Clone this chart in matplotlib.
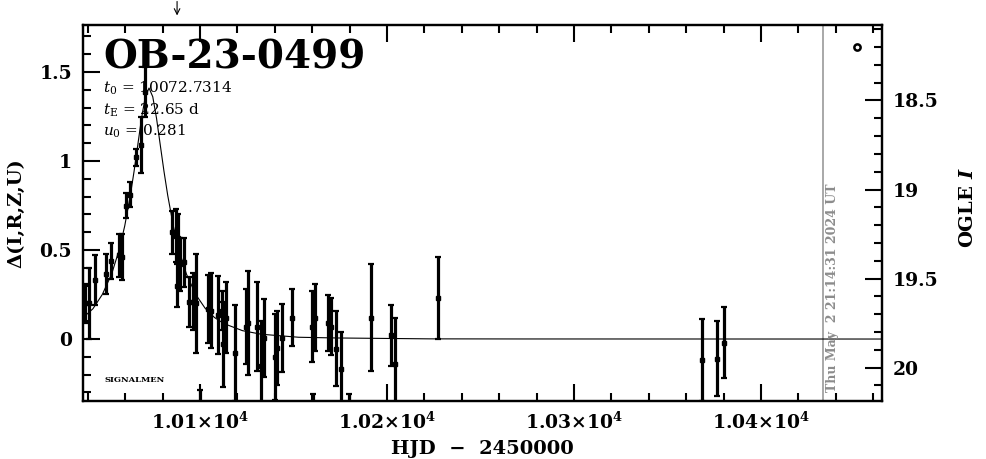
import matplotlib
matplotlib.use("Agg")
import matplotlib.pyplot as plt
import matplotlib.transforms as mtransforms
from matplotlib.ticker import MultipleLocator, FuncFormatter

# OGLE photometry (HJD - 2450000, delta mag, error)
hjd = [10038.5, 10040.6, 10043.8, 10049.7, 10052.4, 10056.7, 10058.3, 10060.4,
       10062.6, 10065.8, 10068.4, 10070.6, 10085.0, 10087.2, 10088.2, 10087.7,
       10089.3, 10091.4, 10094.1, 10096.3, 10097.9, 10100.0, 10104.3, 10105.9,
       10109.6, 10111.8, 10112.3, 10113.9, 10118.7, 10124.6, 10125.7, 10130.5,
       10132.6, 10134.2, 10140.1, 10141.2, 10143.9, 10149.2, 10159.9, 10161.5,
       10160.4, 10168.5, 10170.1, 10172.7, 10175.4, 10179.7, 10191.4, 10202.1,
       10204.3, 10227.3, 10368.5, 10376.5, 10380.2]
dmag = [0.20, 0.20, 0.33, 0.365, 0.44, 0.47, 0.46, 0.75,
        0.81, 1.02, 1.09, 1.39, 0.60, 0.58, 0.57, 0.30,
        0.42, 0.43, 0.21, 0.21, 0.20, -0.455, 0.17, 0.16,
        0.135, 0.16, -0.03, 0.12, -0.08, 0.07, 0.09, 0.07,
        -0.15, 0.005, -0.10, -0.05, 0.005, 0.12, 0.07, 0.12,
        -0.51, 0.09, 0.07, -0.055, -0.17, -0.51, 0.12, 0.02,
        -0.14, 0.23, -0.12, -0.11, -0.02]
derr = [0.11, 0.20, 0.14, 0.11, 0.10, 0.12, 0.13, 0.07,
        0.07, 0.05, 0.16, 0.14, 0.12, 0.15, 0.13, 0.12,
        0.15, 0.14, 0.14, 0.16, 0.28, 0.17, 0.19, 0.21,
        0.22, 0.11, 0.24, 0.20, 0.27, 0.21, 0.29, 0.25,
        0.25, 0.22, 0.24, 0.21, 0.19, 0.16, 0.20, 0.19,
        0.20, 0.16, 0.16, 0.21, 0.21, 0.20, 0.30, 0.17,
        0.26, 0.23, 0.23, 0.21, 0.20]

# model curve
model_t = [10037.4, 10042.7, 10047.7, 10052.7, 10056.7, 10059.7, 10062.7,
           10064.7, 10066.7, 10068.7, 10070.7, 10072.7, 10074.7, 10076.7,
           10078.7, 10080.7, 10082.7, 10085.7, 10088.7, 10092.7, 10097.7,
           10102.7, 10107.7, 10112.7, 10122.7, 10132.7, 10152.7, 10172.7,
           10222.7, 10272.7, 10465.0]
model_d = [0.12, 0.17, 0.25, 0.365, 0.50, 0.635, 0.807,
           0.942, 1.091, 1.241, 1.361, 1.41, 1.361, 1.241,
           1.091, 0.942, 0.807, 0.635, 0.50, 0.365, 0.25,
           0.173, 0.121, 0.087, 0.047, 0.027, 0.010, 0.006,
           0.001, 0.0004, 0.0]

t0_arrow = 10087.7
now_hjd = 10433.4
i_base = 19.84

plt.rcParams['font.family'] = ['DejaVu Serif']
plt.rcParams['mathtext.fontset'] = 'dejavuserif'

fig = plt.figure(figsize=(9.86, 4.59), dpi=100)
ax = fig.add_axes([0.0842, 0.1264, 0.8103, 0.8191])

ax.plot(model_t, model_d, color='black', lw=0.8, zorder=2)
ax.errorbar(hjd, dmag, yerr=derr, fmt='s', ms=2.4, color='black',
            elinewidth=2.3, capsize=2, capthick=1.6, zorder=3)

ax.axvline(now_hjd, color='#9a9a9a', lw=1.2, zorder=1)
ax.plot([10451.4], [1.64], 'o', ms=4.5, mfc='white', mec='black', mew=1.8)

ax.set_xlim(10037.4, 10464.7)
ax.set_ylim(-0.348, 1.764)

for s in ax.spines.values():
    s.set_linewidth(1.6)

ax.xaxis.set_major_locator(MultipleLocator(100))
ax.xaxis.set_minor_locator(MultipleLocator(20))
ax.yaxis.set_major_locator(MultipleLocator(0.5))
ax.yaxis.set_minor_locator(MultipleLocator(0.1))
ax.xaxis.set_major_formatter(FuncFormatter(
    lambda v, p: r'$\mathbf{%.2f{\times}10^4}$' % (v / 1e4)))
ax.yaxis.set_major_formatter(FuncFormatter(lambda v, p: '%g' % v))
ax.tick_params(which='both', direction='in', top=True, right=False,
               width=1.5, labelsize=13.5, pad=8)
ax.tick_params(which='major', length=12)
ax.tick_params(which='minor', length=6)
for lab in ax.get_yticklabels():
    lab.set_fontweight('bold')

ax.set_xlabel('HJD  \u2212  2450000', fontsize=14, fontweight='bold', labelpad=5)
ax.set_ylabel('\u0394(I,R,Z,U)', fontsize=14, fontweight='bold', labelpad=10)

# OGLE I axis on the right
ax2 = ax.twinx()
lo, hi = ax.get_ylim()
ax2.set_ylim(i_base - lo, i_base - hi)
ax2.yaxis.set_major_locator(MultipleLocator(0.5))
ax2.yaxis.set_minor_locator(MultipleLocator(0.1))
ax2.yaxis.set_major_formatter(FuncFormatter(lambda v, p: '%g' % v))
ax2.tick_params(which='both', direction='in', width=1.5, labelsize=13.5, pad=8)
ax2.tick_params(which='major', length=12)
ax2.tick_params(which='minor', length=6)
for lab in ax2.get_yticklabels():
    lab.set_fontweight('bold')
for s in ax2.spines.values():
    s.set_linewidth(1.6)
fig.text(0.9815, 0.548, r'OGLE $\mathbfit{I}$', rotation=90, fontsize=14,
         fontweight='bold', ha='center', va='center')

# labels inside the frame
ax.text(0.025, 0.965, 'OB-23-0499', transform=ax.transAxes, fontsize=28,
        fontweight='bold', va='top', ha='left')
ax.text(0.025, 0.832, r'$t_0$ = 10072.7314', transform=ax.transAxes,
        fontsize=11, va='center')
ax.text(0.025, 0.774, r'$t_{\rm E}$ = 22.65 d', transform=ax.transAxes,
        fontsize=11, va='center')
ax.text(0.025, 0.716, r'$u_0$ = 0.281', transform=ax.transAxes,
        fontsize=11, va='center')
ax.text(0.027, 0.055, 'SIGNALMEN', transform=ax.transAxes, fontsize=6,
        fontweight='bold', va='center')
ax.text(now_hjd + 1.5, -0.30, 'Thu May  2 21:14:31 2024 UT', rotation=90,
        color='#8c8c8c', fontsize=9, fontweight='bold', ha='left',
        va='bottom')

# arrow above the frame
trans = mtransforms.blended_transform_factory(ax.transData, ax.transAxes)
ax.annotate('', xy=(t0_arrow, 1.018), xytext=(t0_arrow, 1.07),
            xycoords=trans, textcoords=trans,
            arrowprops=dict(arrowstyle='->', lw=0.8, color='black'),
            annotation_clip=False)

fig.savefig('out.png', dpi=100)
